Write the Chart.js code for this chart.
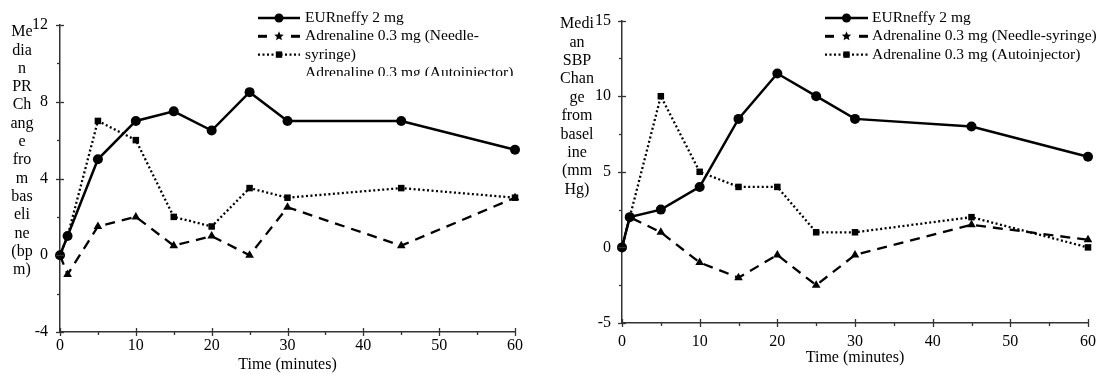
<!DOCTYPE html>
<html>
<head>
<meta charset="utf-8">
<script src="https://cdn.jsdelivr.net/npm/chart.js@4"></script>
<style>
  html, body { margin: 0; padding: 0; background: #fff; }
  body { width: 1105px; height: 374px; position: relative; overflow: hidden; }
  canvas { position: absolute; top: 0; }
  #c1 { left: 0; }
  #c2 { left: 552px; }
</style>
</head>
<body>
<canvas id="c1" width="552" height="374"></canvas>
<canvas id="c2" width="553" height="374"></canvas>
<script>
// ---------- DATA ----------
const timePoints = [0, 1, 5, 10, 15, 20, 25, 30, 45, 60];
const seriesLabels = ['EURneffy 2 mg', 'Adrenaline 0.3 mg (Needle-syringe)', 'Adrenaline 0.3 mg (Autoinjector)'];

const prEurneffy = [0, 1, 5, 7, 7.5, 6.5, 8.5, 7, 7, 5.5];
const prNeedle   = [0, -1, 1.5, 2, 0.5, 1, 0, 2.5, 0.5, 3];
const prAuto     = [0, 1, 7, 6, 2, 1.5, 3.5, 3, 3.5, 3];

const sbpEurneffy = [0, 2, 2.5, 4, 8.5, 11.5, 10, 8.5, 8, 6];
const sbpNeedle   = [0, 2, 1, -1, -2, -0.5, -2.5, -0.5, 1.5, 0.5];
const sbpAuto     = [0, 2, 10, 5, 4, 4, 1, 1, 2, 0];

const xTicks   = [0, 10, 20, 30, 40, 50, 60];
const prTicks  = [-4, 0, 4, 8, 12];
const sbpTicks = [-5, 0, 5, 10, 15];

const prTitleLines  = ['Me', 'dia', 'n', 'PR', 'Ch', 'ang', 'e', 'fro', 'm', 'bas', 'eli', 'ne', '(bp', 'm)'];
const sbpTitleLines = ['Medi', 'an', 'SBP', 'Chan', 'ge', 'from', 'basel', 'ine', '(mm', 'Hg)'];
const prLegendText  = ['EURneffy 2 mg', 'Adrenaline 0.3 mg (Needle-', 'syringe)', 'Adrenaline 0.3 mg (Autoinjector)'];
const xTitle = 'Time (minutes)';

// ---------- HELPERS ----------
const FONT = 'Liberation Serif, Times New Roman, serif';
const AXIS = '#333';
const TICK_SIZE = 16;
const LEGEND_SIZE = 15.5;

const styles = [
  { borderDash: [], pointStyle: 'circle', pointRadius: 5 },
  { borderDash: [10, 7], pointStyle: 'triangle', pointRadius: 5 },
  { borderDash: [2, 2.5], pointStyle: 'rect', pointRadius: 4.6 }
];

function makeDatasets(arrs) {
  return arrs.map((vals, i) => ({
    label: seriesLabels[i],
    data: timePoints.map((t, k) => ({ x: t, y: vals[k] })),
    borderColor: '#000',
    backgroundColor: '#000',
    borderWidth: i === 0 ? 2.5 : 2.3,
    borderDash: styles[i].borderDash,
    pointStyle: styles[i].pointStyle,
    pointRadius: styles[i].pointRadius,
    pointBorderWidth: 0,
    pointBackgroundColor: '#000',
    tension: 0,
    clip: false
  }));
}

function drawStar(ctx, x, y, r) {
  ctx.beginPath();
  for (let i = 0; i < 10; i++) {
    const rr = i % 2 === 0 ? r : r * 0.45;
    const a = -Math.PI / 2 + i * Math.PI / 5;
    const px = x + rr * Math.cos(a), py = y + rr * Math.sin(a);
    if (i === 0) ctx.moveTo(px, py); else ctx.lineTo(px, py);
  }
  ctx.closePath();
  ctx.fill();
}

function drawSample(ctx, idx, x0, x1, y) {
  const xm = (x0 + x1) / 2;
  ctx.save();
  ctx.strokeStyle = '#000';
  ctx.fillStyle = '#000';
  ctx.lineWidth = 2.3;
  if (idx === 0) {
    ctx.setLineDash([]);
    ctx.beginPath(); ctx.moveTo(x0, y); ctx.lineTo(x1, y); ctx.stroke();
    ctx.beginPath(); ctx.arc(xm, y, 4.5, 0, Math.PI * 2); ctx.fill();
  } else if (idx === 1) {
    ctx.setLineDash([]);
    ctx.lineWidth = 3;
    ctx.beginPath(); ctx.moveTo(x0, y); ctx.lineTo(x0 + 9, y); ctx.stroke();
    ctx.beginPath(); ctx.moveTo(x1 - 9, y); ctx.lineTo(x1, y); ctx.stroke();
    drawStar(ctx, xm, y, 5);
  } else {
    ctx.setLineDash([2, 2.5]);
    ctx.beginPath(); ctx.moveTo(x0, y); ctx.lineTo(x1, y); ctx.stroke();
    ctx.setLineDash([]);
    ctx.fillRect(xm - 3.2, y - 3.2, 6.4, 6.4);
  }
  ctx.restore();
}

const decoPlugin = {
  id: 'deco',
  afterDraw(chart, args, o) {
    const ctx = chart.ctx;
    const xs = chart.scales.x, ys = chart.scales.y;
    const ax = xs.left, ay = ys.bottom;
    ctx.save();
    ctx.strokeStyle = AXIS;
    ctx.lineWidth = 1.3;
    ctx.setLineDash([]);
    for (let v = xs.min; v <= xs.max + 1e-9; v += o.xStep / 2) {
      const px = Math.round(xs.getPixelForValue(v)) + 0.5;
      const major = Math.abs((v / o.xStep) - Math.round(v / o.xStep)) < 1e-6;
      ctx.beginPath();
      ctx.moveTo(px, major ? ay - 4 : ay);
      ctx.lineTo(px, major ? ay + 4 : ay + 3);
      ctx.stroke();
    }
    for (let v = ys.min; v <= ys.max + 1e-9; v += o.yStep / 2) {
      const py = Math.round(ys.getPixelForValue(v)) + 0.5;
      const major = Math.abs((v - ys.min) / o.yStep - Math.round((v - ys.min) / o.yStep)) < 1e-6;
      ctx.beginPath();
      ctx.moveTo(major ? ax - 4 : ax - 3, py);
      ctx.lineTo(major ? ax + 4 : ax, py);
      ctx.stroke();
    }
    // y title (wrapped)
    ctx.fillStyle = '#000';
    ctx.font = TICK_SIZE + 'px ' + FONT;
    ctx.textAlign = 'center';
    ctx.textBaseline = 'middle';
    o.titleLines.forEach((t, i) => ctx.fillText(t, o.titleX, o.titleY + i * o.titleLH));
    // legend
    ctx.font = LEGEND_SIZE + 'px ' + FONT;
    ctx.save();
    ctx.beginPath();
    ctx.rect(0, 0, chart.width, o.legendClip);
    ctx.clip();
    ctx.textAlign = 'left';
    o.legendText.forEach((t, i) => ctx.fillText(t, o.legendTextX, o.legendY + i * o.legendLH));
    ctx.restore();
    for (let i = 0; i < 3; i++) {
      drawSample(ctx, i, o.sampleX0, o.sampleX1, o.legendY + i * o.legendLH);
    }
    ctx.restore();
  }
};

function makeChart(id, arrs, cfg) {
  return new Chart(document.getElementById(id), {
    type: 'line',
    data: { datasets: makeDatasets(arrs) },
    plugins: [decoPlugin],
    options: {
      responsive: false,
      animation: false,
      devicePixelRatio: 1,
      layout: { padding: { left: 0, top: cfg.top, right: cfg.right, bottom: 0 } },
      plugins: {
        legend: { display: false },
        tooltip: { enabled: false },
        deco: cfg.deco
      },
      scales: {
        x: {
          type: 'linear', min: 0, max: 60,
          afterBuildTicks: s => { s.ticks = xTicks.map(v => ({ value: v })); },
          ticks: { color: '#000', font: { family: FONT, size: TICK_SIZE }, padding: cfg.xPad, maxRotation: 0 },
          grid: { display: false, drawTicks: false },
          border: { display: true, color: AXIS, width: 1.5 },
          title: { display: true, text: xTitle, color: '#000', font: { family: FONT, size: TICK_SIZE }, padding: { top: 0, bottom: cfg.xTitlePad } },
          afterFit: s => { s.height = cfg.xh; }
        },
        y: {
          type: 'linear', min: cfg.yTicks[0], max: cfg.yTicks[cfg.yTicks.length - 1],
          afterBuildTicks: s => { s.ticks = cfg.yTicks.map(v => ({ value: v })); },
          ticks: { color: '#000', font: { family: FONT, size: TICK_SIZE }, padding: cfg.yPad },
          grid: { display: false, drawTicks: false },
          border: { display: true, color: AXIS, width: 1.5 },
          afterFit: s => { s.width = cfg.yw; }
        }
      }
    }
  });
}

makeChart('c1', [prEurneffy, prNeedle, prAuto], {
  top: 25, right: 37, xh: 42, yw: 60, xPad: 4, yPad: 12, xTitlePad: 0,
  yTicks: prTicks,
  deco: {
    xStep: 10, yStep: 4,
    titleLines: prTitleLines, titleX: 22, titleY: 32, titleLH: 18.3,
    legendText: prLegendText, legendY: 18, legendLH: 18.3, legendTextX: 305, legendClip: 76,
    sampleX0: 258, sampleX1: 300
  }
});

makeChart('c2', [sbpEurneffy, sbpNeedle, sbpAuto], {
  top: 16, right: 12, xh: 51, yw: 70, xPad: 9, yPad: 11, xTitlePad: 7,
  yTicks: sbpTicks,
  deco: {
    xStep: 10, yStep: 5,
    titleLines: sbpTitleLines, titleX: 25, titleY: 24, titleLH: 18.4,
    legendText: seriesLabels, legendY: 18, legendLH: 18.3, legendTextX: 320, legendClip: 374,
    sampleX0: 273, sampleX1: 316
  }
});
</script>
</body>
</html>
